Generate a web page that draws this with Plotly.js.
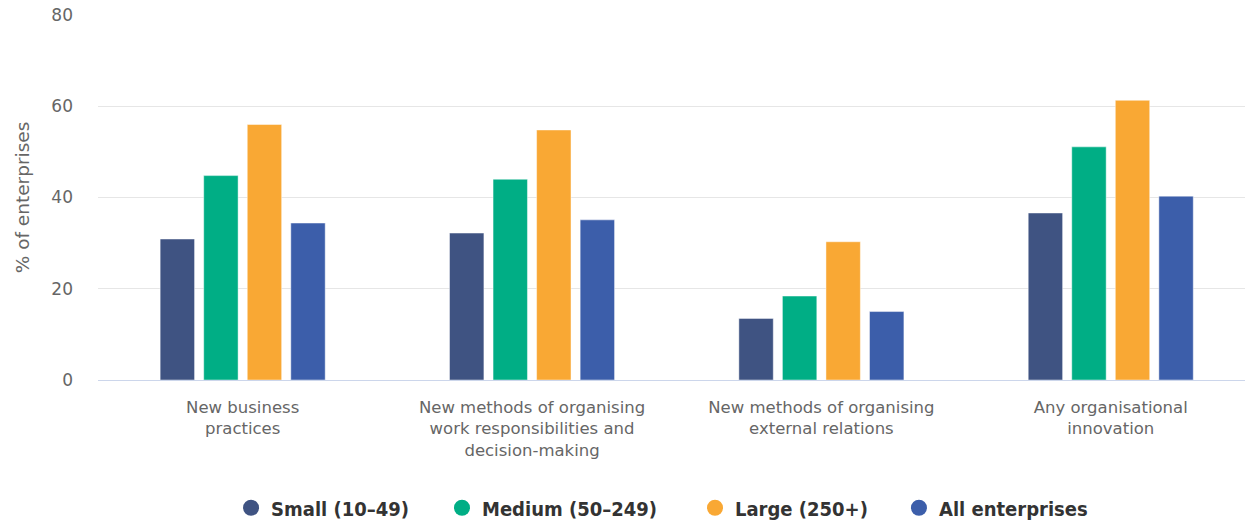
<!DOCTYPE html>
<html>
<head>
<meta charset="utf-8">
<script src="https://cdn.plot.ly/plotly-3.0.1.min.js"></script>
<style>html,body{margin:0;padding:0;background:#fff;overflow:hidden;} #chart{width:1245px;height:522px;}</style>
</head>
<body>
<div id="chart"></div>
<script>
const categories = [
  "New business<br>practices",
  "New methods of organising<br>work responsibilities and<br>decision-making",
  "New methods of organising<br>external relations",
  "Any organisational<br>innovation"
];
const seriesNames = ["Small (10–49)", "Medium (50–249)", "Large (250+)", "All enterprises"];
const small = [30.9, 32.2, 13.5, 36.6];
const medium = [44.8, 44.0, 18.4, 51.1];
const large = [56.0, 54.8, 30.3, 61.3];
const allEnt = [34.4, 35.1, 15.0, 40.3];
const yTicks = [0, 20, 40, 60, 80];

const colors = ["#3f5382", "#00ae85", "#f9a834", "#3c5eaa"];
const values = [small, medium, large, allEnt];
const legendIds = ["legend", "legend2", "legend3", "legend4"];
const legendX = [0.116, 0.2999, 0.5205, 0.6983];

const data = [];
values.forEach((v, i) => {
  data.push({
    type: "bar",
    x: categories,
    y: v,
    name: seriesNames[i],
    showlegend: false,
    marker: {color: colors[i], line: {color: "rgba(255,255,255,0.45)", width: 1}},
    hoverinfo: "y+name"
  });
});
// legend entries with circle symbols
values.forEach((v, i) => {
  data.push({
    type: "scatter",
    mode: "markers",
    x: [null],
    y: [null],
    name: seriesNames[i],
    legend: legendIds[i],
    marker: {color: colors[i], size: 18, symbol: "circle"},
    showlegend: true
  });
});

const layout = {
  width: 1245,
  height: 522,
  margin: {l: 98, r: 0, t: 15, b: 142, autoexpand: false},
  paper_bgcolor: "#fff",
  plot_bgcolor: "#fff",
  barmode: "group",
  bargap: 0.398,
  bargroupgap: 0.21,
  font: {family: "DejaVu Sans, sans-serif", color: "#666"},
  xaxis: {
    type: "category",
    range: [-0.5, 3.464],
    showgrid: false,
    showline: true,
    linecolor: "#ccd6eb",
    linewidth: 1,
    ticks: "",
    ticklabelstandoff: 12,
    tickfont: {size: 16.5, color: "#666", family: "DejaVu Sans, sans-serif"},
    fixedrange: true,
    automargin: false
  },
  yaxis: {
    range: [0, 80],
    tickvals: yTicks,
    ticktext: yTicks.map(String),
    showgrid: true,
    gridcolor: "#e6e6e6",
    gridwidth: 1,
    zeroline: false,
    showline: false,
    ticks: "",
    ticklabelstandoff: 24,
    tickfont: {size: 17, color: "#666", family: "DejaVu Sans, sans-serif"},
    title: {text: "% of enterprises", font: {size: 18.5, color: "#666"}, standoff: 16},
    automargin: false,
    fixedrange: true
  },
  showlegend: true
};
legendIds.forEach((id, i) => {
  layout[id] = {
    orientation: "h",
    x: legendX[i],
    xanchor: "left",
    y: -0.35,
    yanchor: "middle",
    bgcolor: "rgba(0,0,0,0)",
    font: {family: "Liberation Sans Narrow, DejaVu Sans Condensed, sans-serif", size: 20, color: "#333", weight: "bold"},
    itemclick: false,
    itemdoubleclick: false
  };
});

Plotly.newPlot("chart", data, layout, {displayModeBar: false});
</script>
</body>
</html>
